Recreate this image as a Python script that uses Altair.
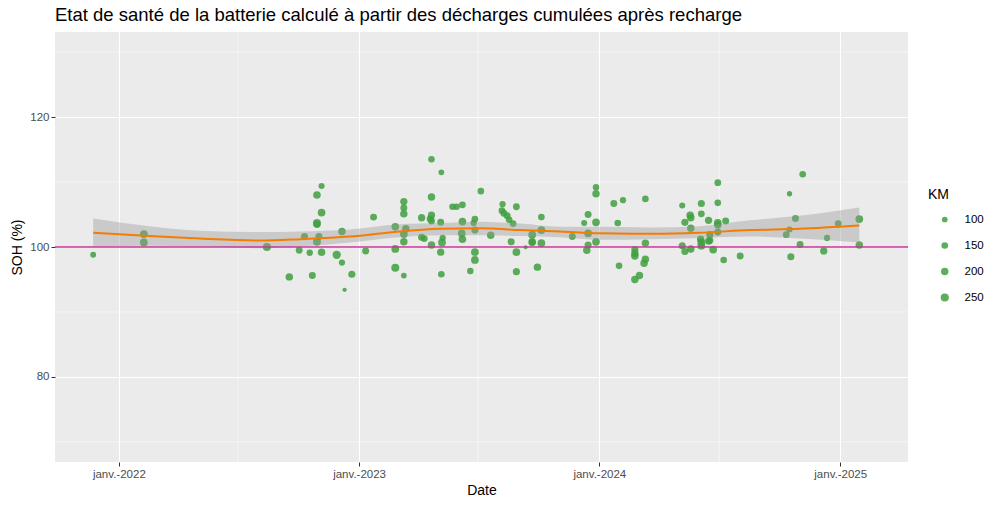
import altair as alt
import pandas as pd

# ---- data ----
dates = [
    "2021-11-23", "2022-02-08", "2022-02-08", "2022-08-14", "2022-09-17", "2022-10-02",
    "2022-10-10", "2022-10-18", "2022-10-22", "2022-10-29", "2022-10-29", "2022-10-29",
    "2022-10-29", "2022-11-01", "2022-11-05", "2022-11-05", "2022-11-05", "2022-11-28",
    "2022-12-06", "2022-12-06", "2022-12-10", "2022-12-21", "2023-01-11", "2023-01-23",
    "2023-02-25", "2023-02-25", "2023-02-25", "2023-03-10", "2023-03-10", "2023-03-10",
    "2023-03-10", "2023-03-13", "2023-03-10", "2023-03-10", "2023-04-06", "2023-04-06",
    "2023-04-10", "2023-04-21", "2023-05-06", "2023-04-21", "2023-04-21", "2023-04-19",
    "2023-04-21", "2023-05-05", "2023-04-21", "2023-05-08", "2023-05-07", "2023-05-05",
    "2023-05-06", "2023-05-23", "2023-05-29", "2023-06-07", "2023-06-07", "2023-06-06",
    "2023-06-07", "2023-06-26", "2023-06-24", "2023-06-26", "2023-06-26", "2023-06-26",
    "2023-06-19", "2023-07-05", "2023-07-20", "2023-08-07", "2023-08-06", "2023-08-09",
    "2023-08-14", "2023-08-17", "2023-08-23", "2023-08-28", "2023-08-20", "2023-08-28",
    "2023-08-28", "2023-09-11", "2023-09-21", "2023-09-21", "2023-09-21", "2023-10-05",
    "2023-10-05", "2023-10-05", "2023-09-29", "2023-11-21", "2023-12-15", "2023-12-09",
    "2023-12-15", "2023-12-15", "2023-12-13", "2023-12-27", "2023-12-27", "2023-12-27",
    "2023-12-27", "2024-01-23", "2024-02-06", "2024-01-29", "2024-01-31", "2024-03-11",
    "2024-03-11", "2024-02-24", "2024-02-24", "2024-02-24", "2024-03-11", "2024-03-09",
    "2024-03-02", "2024-02-24", "2024-05-06", "2024-06-04", "2024-06-04", "2024-05-18",
    "2024-05-19", "2024-05-10", "2024-05-19", "2024-06-15", "2024-05-06", "2024-05-10",
    "2024-05-19", "2024-06-03", "2024-06-04", "2024-06-04", "2024-06-15", "2024-06-29",
    "2024-06-29", "2024-06-29", "2024-06-29", "2024-07-11", "2024-06-29", "2024-06-17",
    "2024-06-17", "2024-06-22", "2024-07-08", "2024-08-02", "2024-11-05", "2024-10-16",
    "2024-10-25", "2024-10-16", "2024-10-11", "2024-11-01", "2024-10-18", "2024-12-29",
    "2024-12-12", "2024-12-07", "2025-01-30", "2025-01-30",
]
soh = [
    98.8, 102.0, 100.7, 100.0, 95.4, 99.5,
    101.6, 99.1, 95.6, 108.0, 103.7, 103.5,
    100.8, 101.6, 109.4, 105.3, 99.2, 98.8,
    102.4, 97.6, 93.4, 95.8, 99.4, 104.6,
    103.1, 99.7, 96.8, 95.6, 107.0, 106.0,
    105.1, 102.8, 102.0, 100.8, 104.5, 101.5,
    101.3, 113.5, 111.5, 107.7, 104.9, 104.3,
    104.0, 103.8, 100.3, 101.4, 100.7, 99.2,
    95.8, 106.2, 106.2, 106.5, 103.9, 102.1,
    101.2, 104.3, 103.7, 102.6, 99.2, 98.0,
    96.3, 108.6, 101.8, 106.6, 105.6, 105.2,
    104.8, 104.2, 103.6, 106.2, 100.8, 99.2,
    96.2, 99.95, 101.9, 100.8, 100.7, 104.6,
    102.6, 100.6, 96.9, 101.6, 105.0, 103.7,
    102.1, 100.3, 99.5, 109.2, 108.2, 103.8,
    100.8, 106.7, 107.2, 103.7, 97.1, 107.4,
    100.6, 99.6, 99.0, 98.6, 98.1, 97.5,
    95.6, 95.0, 106.4, 106.7, 105.1, 104.9,
    104.5, 103.8, 102.9, 104.1, 100.2, 99.3,
    99.7, 101.2, 100.7, 100.2, 100.9, 109.9,
    106.8, 103.7, 103.4, 104.0, 102.3, 101.9,
    101.0, 99.6, 98.0, 98.6, 111.2, 108.2,
    104.4, 102.7, 101.9, 100.4, 98.5, 103.6,
    101.4, 99.4, 104.3, 100.3,
]
km = [
    110, 220, 220, 250, 200, 160,
    180, 140, 170, 210, 230, 200,
    230, 170, 120, 220, 200, 260,
    200, 130, 40, 180, 170, 170,
    210, 220, 240, 100, 190, 170,
    200, 200, 220, 200, 190, 180,
    160, 140, 100, 200, 190, 170,
    170, 170, 200, 130, 220, 190,
    150, 150, 150, 160, 210, 220,
    210, 160, 130, 180, 220, 220,
    140, 150, 200, 130, 150, 170,
    170, 150, 160, 160, 180, 220,
    180, 30, 220, 200, 180, 150,
    220, 220, 200, 170, 170, 120,
    220, 180, 200, 140, 200, 220,
    220, 170, 130, 150, 150, 150,
    200, 180, 200, 200, 200, 200,
    200, 200, 120, 180, 160, 200,
    200, 180, 200, 190, 180, 180,
    200, 200, 220, 220, 180, 160,
    150, 220, 190, 170, 180, 190,
    170, 220, 150, 170, 150, 80,
    170, 120, 160, 170, 180, 160,
    130, 190, 220, 200,
]

# loess smooth and its confidence band
smooth_dates = [
    "2021-11-23", "2022-02-17", "2022-05-04", "2022-08-03", "2022-10-03", "2022-12-18",
    "2023-03-03", "2023-05-04", "2023-07-04", "2023-09-03", "2023-11-02", "2024-01-02",
    "2024-03-17", "2024-06-01", "2024-08-16", "2024-10-31", "2025-01-30",
]
smooth_fit = [102.2, 101.7, 101.3, 101.0, 101.2, 101.6, 102.4, 102.8, 102.9, 102.6,
              102.4, 102.1, 102.05, 102.2, 102.6, 102.8, 103.3]
smooth_lo = [100.1, 100.2, 100.1, 99.8, 100.1, 100.7, 101.5, 101.8, 101.8, 101.7,
             101.5, 101.1, 101.2, 101.4, 101.6, 101.3, 100.7]
smooth_hi = [104.4, 103.2, 102.5, 102.3, 102.4, 102.7, 103.5, 103.7, 103.9, 103.6,
             103.1, 103.1, 103.0, 103.2, 104.1, 104.8, 106.1]

ref_value = [100]
y_major = [80, 100, 120]
y_minor = [70, 90, 110, 130]
x_major = ["2022-01-01", "2023-01-01", "2024-01-01", "2025-01-01"]
x_minor = ["2022-07-01", "2023-07-01", "2024-07-01"]
x_domain = ["2021-09-26", "2025-04-14"]
y_domain = [66.9, 133.1]
km_legend = [100, 150, 200, 250]

title_text = "Etat de santé de la batterie calculé à partir des décharges cumulées après recharge"

# ---- tables ----
pts = pd.DataFrame({"Date": pd.to_datetime(dates), "SOH": soh, "KM": km})
smooth = pd.DataFrame({"Date": pd.to_datetime(smooth_dates), "fit": smooth_fit,
                       "lo": smooth_lo, "hi": smooth_hi})
ref = pd.DataFrame({"v": ref_value})
ymin = pd.DataFrame({"v": y_minor})
xmin = pd.DataFrame({"d": pd.to_datetime(x_minor)})


def dt(s):
    y, m, d = (int(p) for p in s.split("-"))
    return alt.DateTime(year=y, month=m, date=d, utc=True)


FONT = "Liberation Sans"
xscale = alt.Scale(type="utc", domain=[dt(s) for s in x_domain], nice=False)
yscale = alt.Scale(domain=y_domain, nice=False, zero=False)

x_axis = alt.Axis(
    values=[dt(s) for s in x_major],
    labelExpr="'janv.-' + utcFormat(datum.value, '%Y')",
    title="Date", grid=True, gridColor="white", gridWidth=1.1,
    domain=False, tickColor="#333333", tickSize=4, tickWidth=1,
    labelColor="#4D4D4D", labelFontSize=11.5, labelFont=FONT, labelPadding=2,
    titleFont=FONT, titleFontSize=14, titleFontWeight="normal", titleColor="black",
    titlePadding=4,
)
y_axis = alt.Axis(
    values=y_major, title="SOH (%)", grid=True, gridColor="white", gridWidth=1.1,
    domain=False, tickColor="#333333", tickSize=4, tickWidth=1,
    labelColor="#4D4D4D", labelFontSize=11.5, labelFont=FONT, labelPadding=2,
    titleFont=FONT, titleFontSize=14, titleFontWeight="normal", titleColor="black",
    titlePadding=5,
)

minor_y = alt.Chart(ymin).mark_rule(color="white", strokeWidth=0.5).encode(
    y=alt.Y("v:Q", scale=yscale, axis=y_axis)
)
minor_x = alt.Chart(xmin).mark_rule(color="white", strokeWidth=0.5).encode(
    x=alt.X("d:T", scale=xscale, axis=x_axis)
)

points = alt.Chart(pts).mark_circle(color="#40A040", opacity=0.85).encode(
    x=alt.X("Date:T", scale=xscale, axis=x_axis),
    y=alt.Y("SOH:Q", scale=yscale, axis=y_axis),
    size=alt.Size(
        "KM:Q",
        scale=alt.Scale(domain=[20, 280], range=[14, 74], zero=False),
        legend=alt.Legend(
            title="KM", values=km_legend, orient="none", legendX=873, legendY=156,
            titleFont=FONT, titleFontSize=14, titleFontWeight="normal", titleColor="black",
            titlePadding=12, labelFont=FONT, labelFontSize=11.5, labelColor="black",
            symbolFillColor="#40A040", symbolStrokeWidth=0, symbolOpacity=0.85,
            clipHeight=11, rowPadding=14, symbolOffset=11, labelOffset=14,
        ),
    ),
)

band = alt.Chart(smooth).mark_area(color="#999999", opacity=0.4, interpolate="monotone").encode(
    x=alt.X("Date:T", scale=xscale, axis=x_axis),
    y=alt.Y("lo:Q", scale=yscale, axis=y_axis),
    y2="hi:Q",
)
line = alt.Chart(smooth).mark_line(color="#F57C00", strokeWidth=2, interpolate="monotone").encode(
    x=alt.X("Date:T", scale=xscale, axis=x_axis),
    y=alt.Y("fit:Q", scale=yscale, axis=y_axis),
)
hline = alt.Chart(ref).mark_rule(color="#CC3399", strokeWidth=1.6).encode(
    y=alt.Y("v:Q", scale=yscale, axis=y_axis)
)

chart = alt.layer(minor_y, minor_x, points, band, line, hline).properties(
    width=853, height=430,
    background="white",
    title=alt.TitleParams(title_text, anchor="start", frame="group", font=FONT,
                          fontSize=18.5, fontWeight="normal", color="black", offset=7),
    autosize=alt.AutoSizeParams(type="none"),
    padding={"left": 55, "top": 32, "right": 92, "bottom": 45},
).configure_view(fill="#EBEBEB", stroke=None)

chart.save("out.html", embed_options={"renderer": "svg", "actions": False})
